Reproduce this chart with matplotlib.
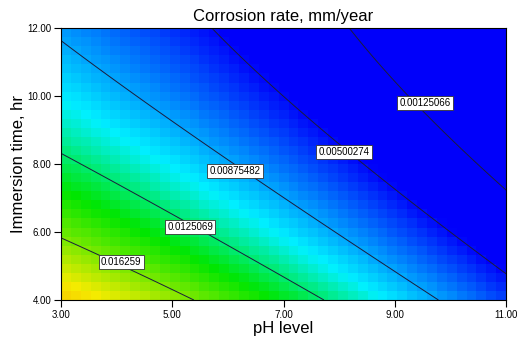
import numpy as np
import matplotlib.pyplot as plt
from matplotlib.colors import LinearSegmentedColormap

plt.rcParams['font.family'] = ['Liberation Sans', 'DejaVu Sans']

# Corrosion rate (mm/year) read at pH 3..11 (columns) and immersion time 4..12 hr (rows)
ph_pts = [3.0, 5.0, 7.0, 9.0, 11.0]
time_pts = [4.0, 6.0, 8.0, 10.0, 12.0]
rate = [
    [0.0199, 0.0169, 0.0135, 0.0100, 0.0064],
    [0.0160, 0.0132, 0.0102, 0.0066, 0.0034],
    [0.0128, 0.0103, 0.0074, 0.0040, 0.0005],
    [0.0103, 0.0079, 0.0049, 0.0021, -0.0022],
    [0.0084, 0.0060, 0.0032, 0.0005, -0.0045],
]

levels = [0.00125066, 0.00500274, 0.00875482, 0.0125069, 0.016259]
label_pos = [(9.54, 9.79), (8.09, 8.35), (6.13, 7.79), (5.32, 6.15), (4.08, 5.12)]

xticks = [3, 5, 7, 9, 11]
yticks = [4, 6, 8, 10, 12]

# quadratic response surface fitted to the readings
P, T = np.meshgrid(ph_pts, time_pts)
p, t, z = P.ravel(), T.ravel(), np.array(rate).ravel()
A = np.column_stack([np.ones_like(p), p, t, p * t, p ** 2, t ** 2])
coef, *_ = np.linalg.lstsq(A, z, rcond=None)


def surface(pp, tt):
    return coef[0] + coef[1] * pp + coef[2] * tt + coef[3] * pp * tt + coef[4] * pp ** 2 + coef[5] * tt ** 2


cmap = LinearSegmentedColormap.from_list(
    'de', [(0.0, '#0000fa'), (0.289, '#00f0ff'), (0.467, '#00e600'),
           (0.695, '#f5eb00'), (1.0, '#ff3000')])
vmin, vmax = 0.0048, 0.0245

fig = plt.figure(figsize=(5.17, 3.39), dpi=100)
ax = fig.add_axes([0.118, 0.115, 0.861, 0.802])

# blocky colour grid
xe = np.linspace(3, 11, 46)
ye = np.linspace(4, 12, 31)
xc = (xe[:-1] + xe[1:]) / 2
yc = (ye[:-1] + ye[1:]) / 2
XC, YC = np.meshgrid(xc, yc)
ax.pcolormesh(xe, ye, surface(XC, YC), cmap=cmap, vmin=vmin, vmax=vmax, shading='flat')

xf = np.linspace(3, 11, 300)
yf = np.linspace(4, 12, 300)
XF, YF = np.meshgrid(xf, yf)
ax.contour(XF, YF, surface(XF, YF), levels=levels, colors='#1c1c3c', linewidths=0.7)

for lev, (lx, ly) in zip(levels, label_pos):
    ax.text(lx, ly, f'{lev:.6g}', fontsize=7, ha='center', va='center', zorder=5,
            bbox=dict(facecolor='white', edgecolor='#333333', linewidth=0.6, pad=1.6))

ax.set_xlim(3, 11)
ax.set_ylim(4, 12)
ax.set_xticks(xticks)
ax.set_yticks(yticks)
ax.set_xticklabels([f'{v:.2f}' for v in xticks], fontsize=7)
ax.set_yticklabels([f'{v:.2f}' for v in yticks], fontsize=7)
ax.tick_params(direction='out', length=5, width=0.8, pad=2)
for s in ax.spines.values():
    s.set_linewidth(0.8)

ax.set_xlabel('pH level', fontsize=12, labelpad=1)
ax.set_ylabel('Immersion time, hr', fontsize=12, labelpad=1)
ax.set_title('Corrosion rate, mm/year', fontsize=12, pad=5)

fig.savefig('out.png', dpi=100)
